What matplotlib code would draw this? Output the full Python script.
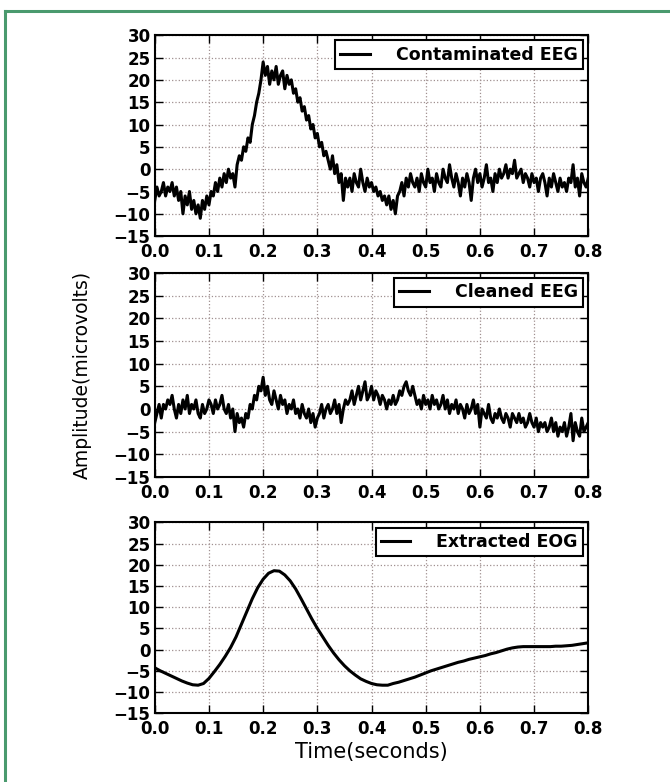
import numpy as np
import matplotlib
matplotlib.use("Agg")
import matplotlib.pyplot as plt
from matplotlib.lines import Line2D

# time axis: noisy EEG sampled every 4 ms, EOG every 10 ms
t_eeg = np.arange(201) * 0.004
t_eog = np.arange(81) * 0.01

# Contaminated EEG (microvolts)
contaminated = [
    -7, -4, -6, -5, -3, -6, -4, -5, -3, -6,
    -4, -7, -5, -10, -6, -8, -5, -9, -7, -10,
    -8, -11, -7, -9, -6, -8, -5, -6, -3, -5,
    -2, -4, -1, -3, 0, -2, -1, -4, 1, 3,
    2, 5, 4, 7, 6, 10, 12, 15, 17, 20,
    24, 21, 23, 19, 22, 20, 23, 19, 21, 22,
    18, 21, 19, 20, 17, 18, 15, 16, 13, 14,
    11, 12, 9, 10, 7, 8, 5, 6, 3, 4,
    2, 0, 3, -1, 1, -3, -1, -7, -2, -4,
    -2, -5, -1, -3, -4, 0, -3, -5, -2, -4,
    -3, -5, -4, -6, -5, -7, -6, -8, -6, -9,
    -7, -10, -6, -5, -3, -6, -2, -4, -1, -3,
    -4, -2, -5, -1, -3, -4, 0, -3, -2, -5,
    -1, -3, -4, 0, -2, -3, 1, -2, -4, -1,
    -3, -6, -2, -4, -1, -3, -7, -2, 0, -3,
    -1, -4, -2, 1, -3, -2, -5, -1, -3, 0,
    -2, -1, 1, -2, 0, -1, 2, -2, -1, 0,
    -3, -1, -2, -4, -1, -3, -2, -5, -2, -1,
    -3, -6, -2, -4, -1, -3, -5, -2, -4, -3,
    -5, -2, -3, 1, -4, -2, -6, -1, -3, -4,
    -2,
]

# Cleaned EEG (middle panel)
cleaned = [
    -3, -1, 1, -2, 1, 0, 2, 1, 3, 0,
    -2, 1, -1, 2, 0, 3, -1, 1, 0, 2,
    -1, -2, 1, -1, 0, 2, 1, -1, 2, 0,
    1, 3, 0, -1, 1, -2, 0, -5, -1, -3,
    -2, -4, -1, -2, 1, 0, 3, 2, 5, 4,
    7, 3, 5, 2, 1, 4, 2, 0, 3, 1,
    2, -1, 1, 0, 2, -1, 0, -2, 1, -1,
    -2, 0, -3, -1, -4, -2, -1, 1, -2, 0,
    1, -1, 0, 2, -1, 1, -3, 0, 2, 1,
    2, 4, 1, 3, 5, 2, 4, 6, 2, 3,
    5, 2, 4, 3, 1, 3, 2, 0, 2, 1,
    3, 1, 2, 4, 3, 5, 6, 4, 3, 5,
    3, 1, 2, 0, 3, 1, 2, 0, 3, 1,
    2, 0, 1, 3, 0, 2, -1, 1, 0, 2,
    -1, 1, 0, -2, 1, -1, 0, 2, -1, 1,
    -4, 0, -1, -2, 1, -2, -3, -1, -2, 0,
    -2, -3, -1, -2, -4, -1, -2, -3, -1, -3,
    -2, -4, -3, -1, -3, -4, -2, -5, -3, -4,
    -3, -5, -4, -2, -5, -3, -6, -4, -5, -3,
    -6, -4, -1, -7, -3, -5, -6, -2, -5, -4,
    -3,
]

# Extracted EOG (bottom panel, smooth)
eog = [
    -4.3, -5.0, -5.6, -6.2, -6.8, -7.4, -7.9, -8.3, -8.4, -8.0,
    -6.8, -5.2, -3.5, -1.6, 0.5, 3.0, 6.0, 9.0, 12.0, 14.6,
    16.6, 18.0, 18.6, 18.5, 17.6, 16.2, 14.3, 12.0, 9.6, 7.2,
    5.0, 3.0, 1.0, -0.8, -2.4, -3.8, -5.0, -6.0, -6.9, -7.5,
    -8.0, -8.3, -8.4, -8.4, -8.0, -7.7, -7.3, -6.9, -6.5, -6.0,
    -5.5, -5.0, -4.6, -4.2, -3.8, -3.4, -3.0, -2.7, -2.3, -2.0,
    -1.7, -1.4, -1.0, -0.7, -0.3, 0.1, 0.4, 0.6, 0.7, 0.7,
    0.7, 0.7, 0.7, 0.7, 0.8, 0.8, 0.9, 1.0, 1.2, 1.4,
    1.6,
]

labels = ["Contaminated EEG", "Cleaned EEG", "Extracted EOG"]
xticks = np.arange(0, 0.81, 0.1)
yticks = np.arange(-15, 31, 5)

plt.rcParams['font.family'] = 'DejaVu Sans'
fig = plt.figure(figsize=(6.7, 7.82), dpi=100)

# axes boxes in figure fractions (left, bottom, width, height)
boxes = [
    [0.231, 0.698, 0.647, 0.257],
    [0.231, 0.390, 0.647, 0.261],
    [0.231, 0.088, 0.647, 0.244],
]
series = [(t_eeg, contaminated, 2.2), (t_eeg, cleaned, 2.2), (t_eog, eog, 2.2)]

for box, (tt, yy, lw), lab in zip(boxes, series, labels):
    ax = fig.add_axes(box)
    ax.plot(tt, yy, color='black', lw=lw, label=lab)
    ax.set_xlim(0, 0.8)
    ax.set_ylim(-15, 30)
    ax.set_xticks(xticks)
    ax.set_yticks(yticks)
    ax.set_xticklabels(["%.1f" % v for v in xticks], fontweight='bold')
    ax.set_yticklabels([u"\u2212%d" % -v if v < 0 else "%d" % v for v in yticks],
                       fontweight='bold')
    ax.tick_params(direction='in', top=True, right=True, length=6, width=1,
                   labelsize=12, pad=3)
    ax.tick_params(axis='x', pad=5)
    ax.grid(True, linestyle=':', color='#a09090', lw=0.9)
    for s in ax.spines.values():
        s.set_linewidth(1.5)
    leg = ax.legend(loc='upper right', fancybox=False, framealpha=1,
                    edgecolor='black', borderaxespad=0.3, borderpad=0.3,
                    prop={'weight': 'bold', 'size': 12.5}, handlelength=1.7,
                    handletextpad=1.5)
    leg.get_frame().set_linewidth(1.5)
    if lab == "Cleaned EEG":
        ax.set_ylabel("Amplitude(microvolts)", fontsize=13.5, labelpad=16)
    if lab == "Extracted EOG":
        ax.set_xlabel("Time(seconds)", fontsize=15, labelpad=3)

# green frame around the figure (top and left edges visible)
green = '#4a9a6e'
fig.add_artist(Line2D([5 / 670, 1], [1 - 11 / 782, 1 - 11 / 782],
                      color=green, lw=2.2, transform=fig.transFigure))
fig.add_artist(Line2D([5 / 670, 5 / 670], [0, 1 - 11 / 782],
                      color=green, lw=2.2, transform=fig.transFigure))

fig.savefig("out.png", dpi=100)
